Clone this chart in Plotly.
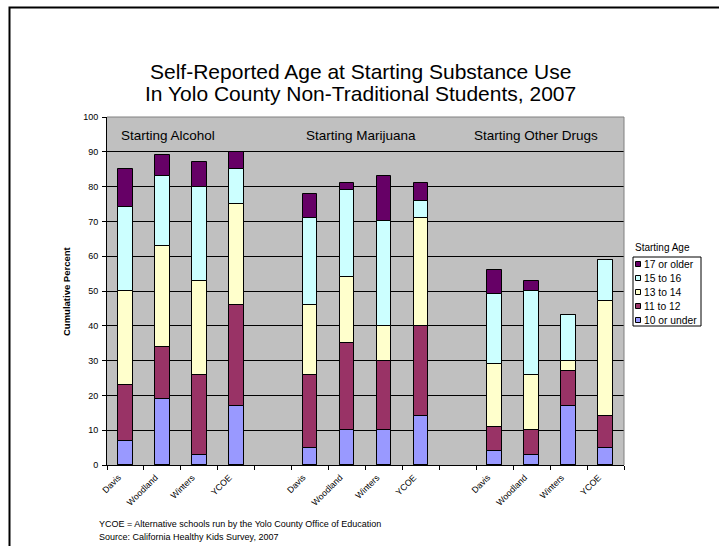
import plotly.graph_objects as go

# ---- data -------------------------------------------------------------
schools = ["Davis", "Woodland", "Winters", "YCOE"]
substances = ["Starting Alcohol", "Starting Marijuana", "Starting Other Drugs"]
age_groups = ["17 or older", "15 to 16", "13 to 14", "11 to 12", "10 or under"]

# cumulative percent, 12 bars: alcohol (4 schools), marijuana (4), other drugs (4)
older_17 = [85, 89, 87, 90, 78, 81, 83, 81, 56, 53, 43, 59]
age_15_16 = [74, 83, 80, 85, 71, 79, 70, 76, 49, 50, 43, 59]
age_13_14 = [50, 63, 53, 75, 46, 54, 40, 71, 29, 26, 30, 47]
age_11_12 = [23, 34, 26, 46, 26, 35, 30, 40, 11, 10, 27, 14]
under_10 = [7, 19, 3, 17, 5, 10, 10, 14, 4, 3, 17, 5]

series = [older_17, age_15_16, age_13_14, age_11_12, under_10]
colors = ["#660066", "#CCFFFF", "#FFFFCC", "#993366", "#9999FF"]

y_ticks = list(range(0, 101, 10))
footnotes = [
    "YCOE = Alternative schools run by the Yolo County Office of Education",
    "Source: California Healthy Kids Survey, 2007",
]

# ---- geometry helpers ---------------------------------------------------
W, H = 719, 546
ML, MR, MT, MB = 107, 95, 117, 81
PW, PH = W - ML - MR, H - MT - MB


def px_x(p):
    return (p - ML) / PW


def px_y(p):
    return (H - MB - p) / PH


# one empty slot between substance groups
slot = len(schools) + 1
x_pos = [g * slot + i for g in range(len(substances)) for i in range(len(schools))]
x_labels = [s for _ in substances for s in schools]
n_slots = len(substances) * slot - 1
boundaries = [k - 0.5 for k in range(n_slots + 1)]

FONT = "Liberation Sans, Arial, sans-serif"

fig = go.Figure()

# cumulative bars overlaid, tallest first so each shorter band sits in front
for name, vals, col in zip(age_groups, series, colors):
    fig.add_trace(go.Bar(
        x=x_pos, y=vals, name=name, width=0.4,
        marker=dict(color=col, line=dict(color="black", width=1)),
        showlegend=False,
    ))

annotations = []
shapes = []

# group captions inside the plot band
group_x = [1.15, 6.38, 11.11]
for label, gx in zip(substances, group_x):
    annotations.append(dict(
        x=gx, y=94.7, xref="x", yref="y", text=label, showarrow=False,
        font=dict(family=FONT, size=13.5, color="black"),
        xanchor="center", yanchor="middle",
    ))

# title (two lines)
title_lines = ["Self-Reported Age at Starting Substance Use",
               "In Yolo County Non-Traditional Students, 2007"]
for line, py in zip(title_lines, [72, 93]):
    annotations.append(dict(
        x=px_x(360), y=px_y(py), xref="paper", yref="paper", text=line,
        showarrow=False, font=dict(family=FONT, size=21, color="black"),
        xanchor="center", yanchor="middle",
    ))

# y axis title
annotations.append(dict(
    x=px_x(66), y=0.5, xref="paper", yref="paper",
    text="<b>Cumulative Percent</b>", textangle=-90, showarrow=False,
    font=dict(family=FONT, size=9.5, color="black"),
    xanchor="center", yanchor="middle",
))

# footnotes
for line, py in zip(footnotes, [524, 537]):
    annotations.append(dict(
        x=px_x(97), y=px_y(py), xref="paper", yref="paper", text=line,
        showarrow=False, font=dict(family=FONT, size=9, color="black"),
        xanchor="left", yanchor="middle",
    ))

# legend: title, box, swatches and labels
annotations.append(dict(
    x=px_x(633), y=px_y(247), xref="paper", yref="paper", text="Starting Age",
    showarrow=False, font=dict(family=FONT, size=10, color="black"),
    xanchor="left", yanchor="middle",
))
shapes.append(dict(
    type="rect", xref="paper", yref="paper",
    x0=px_x(633), x1=px_x(701), y0=px_y(326), y1=px_y(257),
    line=dict(color="black", width=1), fillcolor="white",
))
for k, (name, col) in enumerate(zip(age_groups, colors)):
    cy = 264 + 14 * k
    shapes.append(dict(
        type="rect", xref="paper", yref="paper",
        x0=px_x(635.5), x1=px_x(640.5), y0=px_y(cy + 2.5), y1=px_y(cy - 2.5),
        line=dict(color="black", width=1), fillcolor=col,
    ))
    annotations.append(dict(
        x=px_x(642), y=px_y(cy), xref="paper", yref="paper", text=name,
        showarrow=False, font=dict(family=FONT, size=10.3, color="black"),
        xanchor="left", yanchor="middle",
    ))

# gray plot border on top and right
shapes.append(dict(type="line", xref="paper", yref="paper", x0=0, x1=1, y0=1, y1=1,
                   line=dict(color="#808080", width=1)))
shapes.append(dict(type="line", xref="paper", yref="paper", x0=1, x1=1, y0=0, y1=1,
                   line=dict(color="#808080", width=1)))

# outer frame
shapes.append(dict(
    type="rect", xref="paper", yref="paper",
    x0=px_x(9.5), x1=px_x(740), y0=px_y(570), y1=px_y(7.5),
    line=dict(color="black", width=2), fillcolor="rgba(0,0,0,0)",
))

fig.update_layout(
    width=W, height=H,
    margin=dict(l=ML, r=MR, t=MT, b=MB, pad=0),
    paper_bgcolor="white", plot_bgcolor="#C0C0C0",
    barmode="overlay", bargap=0,
    font=dict(family=FONT, color="black"),
    annotations=annotations, shapes=shapes,
    showlegend=False,
    xaxis=dict(
        range=[-0.5, n_slots - 0.5], tickmode="array", tickvals=x_pos,
        ticktext=x_labels, tickangle=-45, ticks="", showgrid=False,
        zeroline=False, showline=True, linecolor="black", linewidth=1,
        tickfont=dict(family=FONT, size=8.8, color="black"),
        ticklabelshift=-7, ticklabelstandoff=3,
        minor=dict(tickmode="array", tickvals=boundaries, ticks="outside",
                   ticklen=4, tickcolor="black", tickwidth=1, showgrid=False),
    ),
    yaxis=dict(
        range=[0, 100], tickmode="array", tickvals=y_ticks,
        showgrid=True, gridcolor="black", gridwidth=1, zeroline=False,
        showline=True, linecolor="black", linewidth=1,
        ticks="outside", ticklen=4, tickcolor="black",
        tickfont=dict(family=FONT, size=9, color="black"),
        ticklabelstandoff=2,
    ),
)

fig.write_html("out.html")
